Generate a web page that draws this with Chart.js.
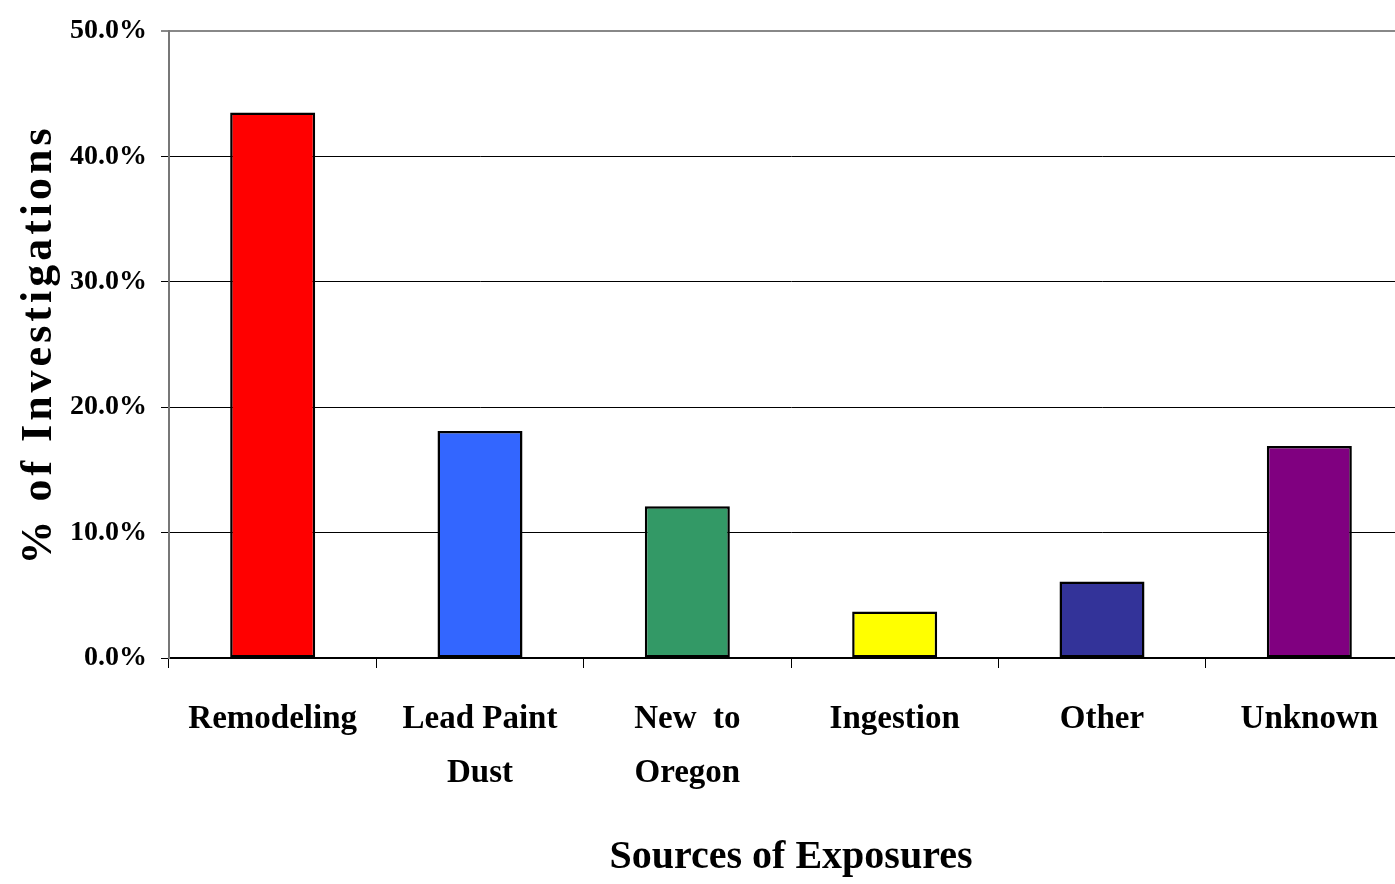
<!DOCTYPE html>
<html lang="en">
<head>
    <meta charset="UTF-8">
    <title>Sources of Exposures</title>
    <script src="https://cdn.jsdelivr.net/npm/chart.js"></script>
    <style>
        html, body { margin: 0; padding: 0; overflow: hidden; background: #fff; }
        #wrap { width: 1414px; height: 884px; }
    </style>
</head>
<body>
    <div id="wrap"><canvas id="sourcesChart"></canvas></div>

    <script>
        // data
        const categories = [['Remodeling'], ['Lead Paint', 'Dust'], ['New  to', 'Oregon'], ['Ingestion'], ['Other'], ['Unknown']];
        const percentValues = [43.5, 18.1, 12.1, 3.7, 6.1, 16.9];
        const barColors = ['#FF0000', '#3366FF', '#339966', '#FFFF00', '#333399', '#800080'];
        const yTicks = [0, 10, 20, 30, 40, 50];

        const serif = '"Liberation Serif", "Times New Roman", serif';

        // spread the letters of the y axis title a bit
        const spacedTitle = {
            id: 'spacedTitle',
            beforeDraw(chart) {
                const y = chart.scales.y;
                if (y && !y._spaced) {
                    const orig = y.drawTitle;
                    y.drawTitle = function () {
                        chart.ctx.save();
                        chart.ctx.letterSpacing = '4px';
                        orig.apply(this, arguments);
                        chart.ctx.restore();
                    };
                    y._spaced = true;
                }
            }
        };

        const ctx = document.getElementById('sourcesChart').getContext('2d');
        new Chart(ctx, {
            type: 'bar',
            data: {
                labels: categories,
                datasets: [{
                    data: percentValues,
                    backgroundColor: barColors,
                    borderColor: '#000',
                    borderWidth: 2.5,
                    borderSkipped: false,
                    categoryPercentage: 1,
                    barPercentage: 0.41
                }]
            },
            options: {
                responsive: true,
                maintainAspectRatio: false,
                animation: false,
                layout: { padding: { top: 31, right: 1, bottom: 0, left: 0 } },
                plugins: {
                    legend: { display: false },
                    tooltip: { enabled: false }
                },
                scales: {
                    x: {
                        afterFit: (s) => { s.height = 226; },
                        grid: {
                            offset: true,
                            drawOnChartArea: false,
                            drawTicks: true,
                            tickLength: 10,
                            color: '#000'
                        },
                        border: { color: '#000', width: 2 },
                        ticks: {
                            color: '#000',
                            maxRotation: 0,
                            autoSkip: false,
                            padding: 24,
                            font: { family: serif, size: 33, weight: 'bold', lineHeight: 1.65 }
                        },
                        title: {
                            display: true,
                            text: 'Sources of Exposures',
                            color: '#000',
                            font: { family: serif, size: 40, weight: 'bold' },
                            padding: { top: 0, bottom: 2 }
                        }
                    },
                    y: {
                        min: 0,
                        max: 50,
                        afterFit: (s) => { s.width = 169; },
                        afterBuildTicks: (s) => { s.ticks = yTicks.map(v => ({ value: v })); },
                        grid: {
                            color: (c) => c.tick && c.tick.value === 50 ? '#888' : '#000',
                            lineWidth: (c) => c.tick && c.tick.value === 50 ? 2 : 1,
                            tickLength: 8
                        },
                        border: { color: '#777', width: 2 },
                        ticks: {
                            color: '#000',
                            padding: 14,
                            font: { family: serif, size: 28, weight: 'bold' },
                            callback: (v) => Number(v).toFixed(1) + '%'
                        },
                        title: {
                            display: true,
                            text: '% of Investigations',
                            color: '#000',
                            font: { family: serif, size: 44, weight: 'bold' },
                            padding: { top: 13, bottom: 0 }
                        }
                    }
                }
            },
            plugins: [spacedTitle]
        });
    </script>
</body>
</html>
